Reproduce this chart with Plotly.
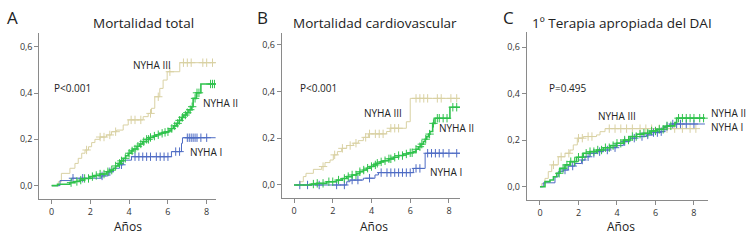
import numpy as np
import plotly.graph_objects as go

# ---------------- Data (cumulative incidence step curves) ----------------
# Panel A: Mortalidad total
A_III_t = [0, 0.34, 0.5, 0.94, 1.2, 1.37, 1.55, 1.72, 1.9, 2.06, 2.23, 2.49, 2.83, 3.09, 3.35, 3.69, 3.95, 4.72, 4.98, 5.15, 5.32, 5.58, 5.75, 5.96, 6.61]
A_III_v = [0, 0.017, 0.053, 0.075, 0.096, 0.118, 0.14, 0.154, 0.168, 0.186, 0.2, 0.21, 0.219, 0.233, 0.24, 0.262, 0.284, 0.298, 0.312, 0.334, 0.384, 0.42, 0.456, 0.492, 0.531]
A_III_end = 8.46
A_III_c = [1.8, 2.5, 2.7, 3.0, 3.3, 4.1, 4.3, 4.6, 5.1, 5.5, 6.1, 6.8, 7.0, 7.2, 7.8, 8.0, 8.3]

A_II_t = [0, 0.3, 0.94, 1.2, 1.46, 1.7, 1.97, 2.2, 2.49, 2.83, 3.0, 3.18, 3.3, 3.43, 3.55, 3.69, 3.82, 3.95, 4.1, 4.2, 4.4, 4.55, 4.7, 4.89, 5.05, 5.24, 5.4, 5.58, 5.75, 5.92, 6.05, 6.18, 6.3, 6.44, 6.58, 6.7, 6.82, 6.95, 7.08, 7.2, 7.3, 7.47, 7.7]
A_II_v = [0, 0.006, 0.013, 0.018, 0.024, 0.031, 0.039, 0.044, 0.05, 0.06, 0.067, 0.075, 0.085, 0.096, 0.107, 0.118, 0.129, 0.14, 0.15, 0.158, 0.17, 0.18, 0.19, 0.2, 0.208, 0.214, 0.22, 0.226, 0.23, 0.233, 0.24, 0.247, 0.258, 0.269, 0.282, 0.295, 0.305, 0.315, 0.328, 0.341, 0.377, 0.401, 0.439]
A_II_end = 8.46
A_II_c = [1.0, 1.3, 1.5, 1.7, 1.9, 2.1, 2.3, 2.5, 2.7, 2.9, 3.1, 3.3, 3.5, 3.6, 3.8, 4.0, 4.15, 4.3, 4.45, 4.6, 4.75, 4.9, 5.0, 5.1, 5.3, 5.5, 5.7, 5.85, 6.0, 6.2, 6.35, 6.5, 6.6, 6.75, 6.9, 7.0, 7.15, 7.25, 7.4, 7.5, 7.6, 8.2, 8.3, 8.4]

A_I_t = [0, 0.43, 1.03, 2.58, 2.92, 3.18, 3.5, 3.69, 4.12, 6.18, 6.7, 6.75]
A_I_v = [0, 0.022, 0.032, 0.042, 0.06, 0.075, 0.09, 0.11, 0.125, 0.147, 0.183, 0.207]
A_I_end = 8.46
A_I_c = [1.1, 1.6, 2.6, 3.0, 3.6, 4.3, 4.5, 4.7, 4.9, 5.1, 5.4, 5.6, 5.8, 6.0, 6.4, 6.6, 7.0, 7.1, 7.2, 7.3, 7.4, 7.5, 7.7, 8.0]

# Panel B: Mortalidad cardiovascular
B_III_t = [0, 0.31, 0.48, 0.62, 1.0, 1.43, 1.6, 1.86, 2.03, 2.24, 2.46, 2.72, 3.06, 3.32, 3.58, 3.84, 4.78, 4.96, 5.8, 6.0]
B_III_v = [0, 0.014, 0.036, 0.05, 0.067, 0.079, 0.096, 0.107, 0.129, 0.143, 0.157, 0.169, 0.179, 0.19, 0.204, 0.219, 0.229, 0.243, 0.271, 0.371]
B_III_end = 8.57
B_III_c = [1.5, 2.1, 2.5, 2.9, 3.2, 3.7, 3.9, 4.2, 4.4, 4.6, 5.0, 5.2, 5.4, 6.3, 6.5, 6.7, 6.9, 7.4, 7.6, 8.1, 8.4]

B_II_t = [0, 0.9, 1.17, 1.69, 2.2, 2.5, 2.72, 3.0, 3.24, 3.4, 3.58, 3.75, 3.92, 4.1, 4.27, 4.45, 4.61, 4.9, 5.13, 5.4, 5.64, 5.9, 6.16, 6.3, 6.42, 6.55, 6.68, 6.77, 6.85, 6.95, 7.02, 7.16, 7.28, 8.05]
B_II_v = [0, 0.004, 0.007, 0.014, 0.021, 0.028, 0.036, 0.043, 0.05, 0.057, 0.064, 0.072, 0.079, 0.086, 0.093, 0.099, 0.104, 0.112, 0.119, 0.126, 0.133, 0.138, 0.143, 0.153, 0.164, 0.175, 0.186, 0.196, 0.207, 0.218, 0.229, 0.264, 0.286, 0.333]
B_II_end = 8.57
B_II_c = [1.0, 1.2, 1.5, 1.8, 2.0, 2.3, 2.6, 2.8, 3.0, 3.2, 3.4, 3.6, 3.8, 4.0, 4.2, 4.3, 4.5, 4.7, 4.9, 5.0, 5.2, 5.4, 5.6, 5.8, 6.0, 6.1, 6.3, 6.5, 6.6, 6.8, 7.0, 7.2, 7.4, 7.5, 7.7, 7.9, 8.2, 8.4]

B_I_t = [0, 2.72, 2.89, 3.58, 4.18, 4.36, 6.16, 6.77]
B_I_v = [0, 0.014, 0.021, 0.029, 0.043, 0.053, 0.071, 0.136]
B_I_end = 8.57
B_I_c = [0.3, 0.7, 1.3, 2.2, 2.6, 3.0, 3.3, 3.9, 4.5, 4.8, 5.0, 5.2, 5.4, 5.6, 5.8, 6.0, 6.3, 6.5, 6.9, 7.1, 7.3, 7.5, 7.7, 8.0, 8.4]

# Panel C: 1º Terapia apropiada del DAI
C_III_t = [0, 0.09, 0.26, 0.43, 0.61, 0.95, 1.3, 1.56, 1.73, 1.94, 2.25, 2.94, 3.12, 3.38]
C_III_v = [0, 0.014, 0.036, 0.065, 0.094, 0.129, 0.144, 0.158, 0.18, 0.209, 0.216, 0.223, 0.237, 0.25]
C_III_end = 8.16
C_III_c = [0.7, 1.1, 1.5, 2.0, 2.2, 2.5, 2.7, 3.6, 3.9, 4.2, 4.5, 4.8, 5.2, 5.5, 5.8, 6.2, 6.6, 7.0, 7.4, 7.8, 8.1]

C_II_t = [0, 0.26, 0.52, 0.7, 0.87, 1.04, 1.3, 1.56, 1.9, 2.25, 2.6, 2.94, 3.29, 3.64, 3.98, 4.33, 4.68, 5.02, 5.37, 5.71, 6.06, 6.41, 6.58, 7.01, 7.1]
C_II_v = [0, 0.022, 0.029, 0.043, 0.058, 0.079, 0.094, 0.108, 0.127, 0.144, 0.151, 0.158, 0.168, 0.177, 0.187, 0.201, 0.216, 0.226, 0.23, 0.24, 0.247, 0.256, 0.262, 0.276, 0.295]
C_II_end = 8.57
C_II_c = [1.0, 1.2, 1.4, 1.6, 1.8, 2.0, 2.2, 2.4, 2.6, 2.8, 3.0, 3.2, 3.4, 3.6, 3.8, 4.0, 4.2, 4.4, 4.6, 4.8, 5.0, 5.2, 5.4, 5.6, 5.8, 6.0, 6.2, 6.4, 6.6, 6.8, 7.2, 7.4, 7.6, 7.8, 8.0, 8.3, 8.5]

C_I_t = [0, 0.17, 0.78, 0.95, 1.21, 1.47, 1.82, 2.16, 2.34, 2.6, 2.94, 3.29, 3.64, 3.98, 4.33, 4.68, 5.02, 5.54, 5.89, 6.23, 6.49, 6.75]
C_I_v = [0, 0.017, 0.043, 0.065, 0.072, 0.089, 0.1, 0.115, 0.129, 0.144, 0.151, 0.158, 0.168, 0.177, 0.194, 0.209, 0.216, 0.223, 0.233, 0.237, 0.259, 0.27]
C_I_end = 8.57
C_I_c = [1.3, 1.7, 2.2, 2.5, 2.8, 3.1, 3.5, 3.9, 4.4, 4.9, 5.3, 5.6, 5.9, 6.1, 6.3, 6.6, 6.9, 7.1, 7.3, 7.6, 8.0]

y_tickvals = [0, 0.2, 0.4, 0.6]
y_ticktext = ["0,0", "0,2", "0,4", "0,6"]
x_tickvals = [0, 2, 4, 6, 8]
titles = ["Mortalidad total", "Mortalidad cardiovascular", "1º Terapia apropiada del DAI"]
letters = ["A", "B", "C"]
p_texts = ["P<0.001", "P<0.001", "P=0.495"]
x_label = "Años"

COL_I = "#4f6cc4"
COL_II = "#2fc24c"
COL_III = "#d9d1a3"

W, H = 750, 244
fig = go.Figure()

def add_series(t, v, end, cens, color, width, xa, ya):
    t = list(t) + [end]
    v = list(v) + [v[-1]]
    fig.add_trace(go.Scatter(x=t, y=v, mode="lines", line=dict(color=color, width=width, shape="hv"),
                             xaxis=xa, yaxis=ya, showlegend=False, hoverinfo="skip"))
    tt = np.array(t)
    vv = np.array(v)
    idx = np.searchsorted(tt, np.array(cens), side="right") - 1
    fig.add_trace(go.Scatter(x=cens, y=vv[idx], mode="markers",
                             marker=dict(symbol="cross-thin", size=6, line=dict(color=color, width=1)),
                             xaxis=xa, yaxis=ya, showlegend=False, hoverinfo="skip"))

panels = [
    ("x", "y", [(A_III_t, A_III_v, A_III_end, A_III_c, COL_III, 1),
                (A_I_t, A_I_v, A_I_end, A_I_c, COL_I, 1),
                (A_II_t, A_II_v, A_II_end, A_II_c, COL_II, 1.6)]),
    ("x2", "y2", [(B_III_t, B_III_v, B_III_end, B_III_c, COL_III, 1),
                  (B_I_t, B_I_v, B_I_end, B_I_c, COL_I, 1),
                  (B_II_t, B_II_v, B_II_end, B_II_c, COL_II, 1.6)]),
    ("x3", "y3", [(C_III_t, C_III_v, C_III_end, C_III_c, COL_III, 1),
                  (C_I_t, C_I_v, C_I_end, C_I_c, COL_I, 1),
                  (C_II_t, C_II_v, C_II_end, C_II_c, COL_II, 1.6)]),
]
for xa, ya, series in panels:
    for s in series:
        add_series(*s, xa, ya)

# axes geometry (pixels)
geo = [
    dict(x0=39.3, x1=216, yb=199.3, yt=33.3, xr=[-0.64, 8.48], yr=[-0.059, 0.658]),
    dict(x0=281.7, x1=460, yb=198.3, yt=33.0, xr=[-0.635, 8.57], yr=[-0.057, 0.651]),
    dict(x0=526.7, x1=708, yb=200.0, yt=31.7, xr=[-0.69, 8.73], yr=[-0.057, 0.667]),
]
axcommon = dict(showgrid=False, zeroline=False, showline=True, linecolor="#8a8a8a", linewidth=1,
                ticks="outside", ticklen=4, tickcolor="#8a8a8a",
                tickfont=dict(family="Open Sans", size=9, color="#333"))
layout = dict(width=W, height=H, margin=dict(l=0, r=0, t=0, b=0),
              plot_bgcolor="white", paper_bgcolor="white", showlegend=False)
for i, g in enumerate(geo):
    sfx = "" if i == 0 else str(i + 1)
    layout["xaxis" + sfx] = dict(axcommon, domain=[g["x0"] / W, g["x1"] / W], range=g["xr"],
                                 tickvals=x_tickvals, anchor="y" + sfx)
    layout["yaxis" + sfx] = dict(axcommon, domain=[(H - g["yb"]) / H, (H - g["yt"]) / H], range=g["yr"],
                                 tickvals=y_tickvals, ticktext=y_ticktext, anchor="x" + sfx)
fig.update_layout(**layout)

ann = []
title_x = [143, 375, 622]
letter_x = [12, 262, 508]
xlab_x = [128, 374, 621]
for i in range(3):
    ann.append(dict(text=titles[i], x=title_x[i] / W, y=(H - 23) / H, xref="paper", yref="paper",
                    showarrow=False, xanchor="center", yanchor="middle",
                    font=dict(family="Open Sans", size=13.5, color="#222")))
    ann.append(dict(text=letters[i], x=letter_x[i] / W, y=(H - 17) / H, xref="paper", yref="paper",
                    showarrow=False, xanchor="center", yanchor="middle",
                    font=dict(family="Open Sans", size=17, color="#222")))
    ann.append(dict(text=x_label, x=xlab_x[i] / W, y=(H - 226) / H, xref="paper", yref="paper",
                    showarrow=False, xanchor="center", yanchor="middle",
                    font=dict(family="Open Sans", size=12, color="#222")))

lab_font = dict(family="Open Sans", size=10, color="#222")
labels = [
    ("x", "y", p_texts[0], 0.0, 0.42),
    ("x", "y", "NYHA III", 4.09, 0.521),
    ("x", "y", "NYHA II", 7.69, 0.358),
    ("x", "y", "NYHA I", 7.02, 0.147),
    ("x2", "y2", p_texts[1], 0.2, 0.416),
    ("x2", "y2", "NYHA III", 3.49, 0.307),
    ("x2", "y2", "NYHA II", 7.37, 0.243),
    ("x2", "y2", "NYHA I", 6.9, 0.057),
    ("x3", "y3", p_texts[2], 0.36, 0.425),
    ("x3", "y3", "NYHA III", 2.89, 0.305),
]
for xr, yr, txt, xv, yv in labels:
    ann.append(dict(text=txt, x=xv, y=yv, xref=xr, yref=yr, showarrow=False,
                    xanchor="left", yanchor="middle", font=lab_font))
# labels placed just right of panel C's axis end (outside the data range)
for txt, px, py in [("NYHA II", 708.5, 113.3), ("NYHA I", 708.5, 126.7)]:
    ann.append(dict(text=txt, x=px / W, y=(H - py) / H, xref="paper", yref="paper", showarrow=False,
                    xanchor="left", yanchor="middle", font=lab_font))
fig.update_layout(annotations=ann)

fig.write_html("out.html", config={"displayModeBar": False},
               post_script="document.body.style.margin='0';")
